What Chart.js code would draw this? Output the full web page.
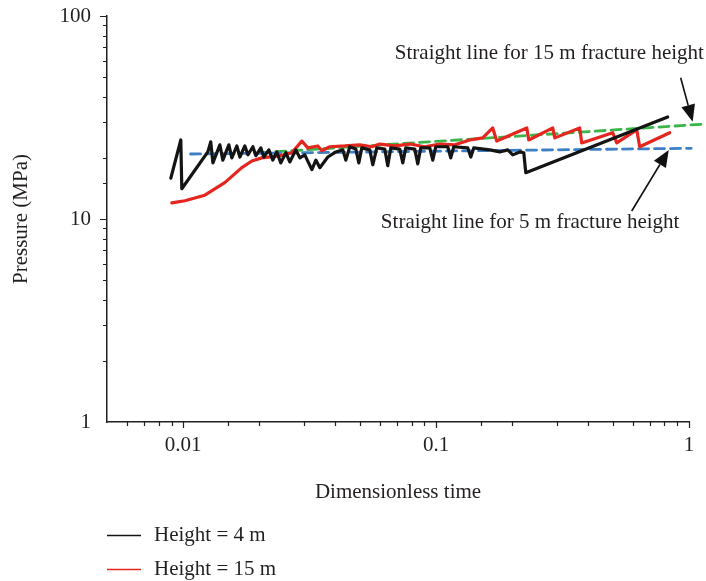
<!DOCTYPE html>
<html>
<head>
<meta charset="utf-8">
<script src="https://cdn.jsdelivr.net/npm/chart.js@4"></script>
<style>
  html, body { margin: 0; padding: 0; background: #fff; }
  #wrap { width: 706px; height: 581px; position: relative; }
</style>
</head>
<body>
<div id="wrap"><canvas id="chart"></canvas></div>
<script>
// dimensionless time / pressure (MPa) for the two fracture heights
const heightFourTime = [0.00894, 0.00979, 0.00988, 0.01252, 0.01286, 0.01311, 0.01397, 0.01435, 0.01516, 0.01558,
  0.01631, 0.01676, 0.01754, 0.01803, 0.01887, 0.01939, 0.02029, 0.02084, 0.02182, 0.02262,
  0.02346, 0.02433, 0.02547, 0.02641, 0.0279, 0.02894, 0.03027, 0.03228, 0.03348, 0.03472,
  0.03733, 0.04015, 0.04278, 0.04397, 0.0456, 0.04816, 0.0495, 0.05086, 0.0547, 0.05621,
  0.0583, 0.06268, 0.06442, 0.06621, 0.07186, 0.07385, 0.0759, 0.08238, 0.08466, 0.087,
  0.09443, 0.09705, 0.09973, 0.1112, 0.1143, 0.1175, 0.1335, 0.1372, 0.1409, 0.1631,
  0.1786, 0.192, 0.201, 0.2143, 0.2222, 0.2263, 0.8237];
const heightFourPressure = [15.9, 24.5, 14.1, 21.4, 24.0, 18.9, 23.2, 19.5, 23.2, 20.0,
  22.9, 20.2, 22.9, 20.7, 22.7, 20.5, 22.4, 20.2, 21.9, 19.5,
  21.4, 18.9, 21.2, 19.1, 21.9, 20.0, 20.7, 17.5, 19.5, 17.9,
  20.2, 21.4, 21.9, 19.5, 22.7, 22.1, 18.9, 22.4, 21.9, 18.5,
  22.4, 22.1, 18.3, 22.4, 22.1, 18.9, 22.4, 22.1, 18.7, 22.4,
  22.4, 19.5, 22.7, 22.7, 20.0, 22.7, 22.4, 20.2, 22.4, 21.9,
  21.4, 21.9, 20.7, 21.4, 21.2, 16.9, 31.8];

const heightFifteenTime = [0.00902, 0.01016, 0.01218, 0.01461, 0.01706, 0.01869, 0.02047, 0.02411, 0.0269, 0.02946,
  0.03112, 0.03408, 0.03534, 0.038, 0.04356, 0.04994, 0.0557, 0.05992, 0.06867, 0.07873,
  0.09022, 0.1034, 0.1186, 0.1359, 0.1529, 0.1675, 0.1737, 0.2284, 0.2325, 0.2893,
  0.2946, 0.3698, 0.3766, 0.4995, 0.518, 0.6213, 0.6384, 0.8389];
const heightFifteenPressure = [12.0, 12.3, 13.1, 15.1, 17.9, 19.3, 20.0, 20.5, 21.2, 24.2,
  22.4, 22.9, 21.7, 22.7, 22.9, 23.2, 22.7, 23.4, 22.9, 23.4,
  22.7, 23.4, 23.2, 24.5, 25.1, 28.1, 24.2, 28.1, 24.5, 28.1,
  25.1, 28.1, 23.7, 26.6, 23.7, 27.5, 22.7, 26.6];

// straight-line fits
const fitFiveTime = [0.0107, 1.02];
const fitFivePressure = [20.9, 22.3];
const fitFifteenTime = [0.0201, 1.13];
const fitFifteenPressure = [21.2, 29.3];

const xTickValues = [0.01, 0.1, 1];
const yTickValues = [1, 10, 100];

const serif = "'Liberation Serif', 'Times New Roman', serif";
const ink = '#231f20';

function pairs(xs, ys) {
  return xs.map((x, i) => ({ x: x, y: ys[i] }));
}

function isDecade(v, list) {
  return list.some(t => Math.abs(Math.log10(v) - Math.log10(t)) < 1e-6);
}

// short minor ticks, longer decade ticks, all pointing outward
const tickMarks = {
  id: 'tickMarks',
  afterDraw(chart) {
    const ctx = chart.ctx;
    const xs = chart.scales.x, ys = chart.scales.y;
    ctx.save();
    ctx.strokeStyle = ink;
    ctx.lineWidth = 1.2;
    ctx.beginPath();
    xs.ticks.forEach(t => {
      if (t.value <= xs.min * 1.0001) return;
      const px = Math.round(xs.getPixelForValue(t.value)) + 0.5;
      const len = isDecade(t.value, xTickValues) ? 6 : 4;
      ctx.moveTo(px, xs.top);
      ctx.lineTo(px, xs.top + len);
    });
    ys.ticks.forEach(t => {
      if (t.value <= ys.min * 1.0001) return;
      const py = Math.round(ys.getPixelForValue(t.value)) + 0.5;
      const len = isDecade(t.value, yTickValues) ? 7 : 4;
      ctx.moveTo(ys.right, py);
      ctx.lineTo(ys.right - len, py);
    });
    ctx.stroke();
    ctx.restore();
  }
};

// legend stacked under the axis title
const stackedKey = {
  id: 'stackedKey',
  afterDraw(chart) {
    const ctx = chart.ctx;
    const left = chart.chartArea.left;
    let y = 535;
    ctx.save();
    ctx.font = '21px ' + serif;
    ctx.textBaseline = 'middle';
    ctx.textAlign = 'left';
    chart.data.datasets.forEach(ds => {
      if (!ds.showInKey) return;
      ctx.strokeStyle = ds.borderColor;
      ctx.lineWidth = 1.5;
      ctx.beginPath();
      ctx.moveTo(left, y + 0.5);
      ctx.lineTo(left + 34, y + 0.5);
      ctx.stroke();
      ctx.fillStyle = ink;
      ctx.fillText(ds.label, left + 47, y);
      y += 34;
    });
    ctx.restore();
  }
};

// callout labels with arrows, anchored in data units
const callouts = {
  id: 'callouts',
  afterDraw(chart, args, opts) {
    const ctx = chart.ctx;
    const xs = chart.scales.x, ys = chart.scales.y;
    ctx.save();
    ctx.font = '21px ' + serif;
    ctx.textBaseline = 'middle';
    ctx.textAlign = 'left';
    ctx.fillStyle = ink;
    ctx.strokeStyle = '#111';
    opts.items.forEach(n => {
      ctx.fillText(n.text, xs.getPixelForValue(n.textX), ys.getPixelForValue(n.textY));
      const x0 = xs.getPixelForValue(n.tailX), y0 = ys.getPixelForValue(n.tailY);
      const x1 = xs.getPixelForValue(n.tipX), y1 = ys.getPixelForValue(n.tipY);
      const ang = Math.atan2(y1 - y0, x1 - x0);
      const headLen = 17, headHalf = 7;
      const bx = x1 - headLen * Math.cos(ang), by = y1 - headLen * Math.sin(ang);
      ctx.lineWidth = 1.6;
      ctx.beginPath();
      ctx.moveTo(x0, y0);
      ctx.lineTo(bx, by);
      ctx.stroke();
      ctx.fillStyle = '#111';
      ctx.beginPath();
      ctx.moveTo(x1, y1);
      ctx.lineTo(bx + headHalf * Math.sin(ang), by - headHalf * Math.cos(ang));
      ctx.lineTo(bx - headHalf * Math.sin(ang), by + headHalf * Math.cos(ang));
      ctx.closePath();
      ctx.fill();
      ctx.fillStyle = ink;
    });
    ctx.restore();
  }
};

const ctx = document.getElementById('chart').getContext('2d');

new Chart(ctx, {
  type: 'line',
  data: {
    datasets: [
      {
        label: 'Height = 4 m',
        data: pairs(heightFourTime, heightFourPressure),
        borderColor: '#141414',
        borderWidth: 3.2,
        showInKey: true
      },
      {
        label: 'Height = 15 m',
        data: pairs(heightFifteenTime, heightFifteenPressure),
        borderColor: '#e4261f',
        borderWidth: 3.2,
        showInKey: true
      },
      {
        label: 'Straight line for 5 m fracture height',
        data: pairs(fitFiveTime, fitFivePressure),
        borderColor: '#3c7fc5',
        borderWidth: 2.8,
        borderDash: [10, 6],
        clip: false
      },
      {
        label: 'Straight line for 15 m fracture height',
        data: pairs(fitFifteenTime, fitFifteenPressure),
        borderColor: '#3bb54a',
        borderWidth: 2.8,
        borderDash: [10, 6],
        clip: false
      }
    ]
  },
  options: {
    responsive: true,
    maintainAspectRatio: false,
    devicePixelRatio: 1,
    animation: false,
    layout: { padding: { left: 0, top: 16, right: 17, bottom: 76 } },
    elements: {
      point: { radius: 0, hoverRadius: 0 },
      line: { tension: 0, borderJoinStyle: 'round', borderCapStyle: 'round', fill: false }
    },
    plugins: {
      legend: { display: false },
      tooltip: { enabled: false },
      callouts: {
        items: [
          { text: 'Straight line for 15 m fracture height', textX: 0.0687, textY: 65.1,
            tailX: 0.927, tailY: 49.6, tipX: 1.034, tipY: 30.1 },
          { text: 'Straight line for 5 m fracture height', textX: 0.0605, textY: 9.56,
            tailX: 0.5936, tailY: 10.95, tipX: 0.8316, tipY: 21.89 }
        ]
      }
    },
    scales: {
      x: {
        type: 'logarithmic',
        min: 0.005,
        max: 1,
        afterFit: s => { s.height = 83; s.paddingLeft = 0; s.paddingRight = 0; },
        grid: { display: false, drawTicks: false },
        border: { display: true, color: ink, width: 1.5 },
        ticks: {
          autoSkip: false,
          maxRotation: 0,
          padding: 11,
          color: ink,
          font: { family: serif, size: 21 },
          callback: v => isDecade(v, xTickValues) ? String(Number(v.toPrecision(1))) : ''
        },
        title: {
          display: true,
          text: 'Dimensionless time',
          color: ink,
          font: { family: serif, size: 21 },
          padding: { top: 0, bottom: 0 }
        }
      },
      y: {
        type: 'logarithmic',
        min: 1,
        max: 100,
        afterFit: s => { s.width = 107; s.paddingTop = 0; s.paddingBottom = 0; },
        grid: { display: false, drawTicks: false },
        border: { display: true, color: ink, width: 1.5 },
        ticks: {
          autoSkip: false,
          padding: 16,
          color: ink,
          font: { family: serif, size: 21 },
          callback: v => isDecade(v, yTickValues) ? String(Number(v.toPrecision(1))) : ''
        },
        title: {
          display: true,
          text: 'Pressure (MPa)',
          color: ink,
          font: { family: serif, size: 21 },
          padding: { top: 9, bottom: 0 }
        }
      }
    }
  },
  plugins: [tickMarks, stackedKey, callouts]
});
</script>
</body>
</html>
